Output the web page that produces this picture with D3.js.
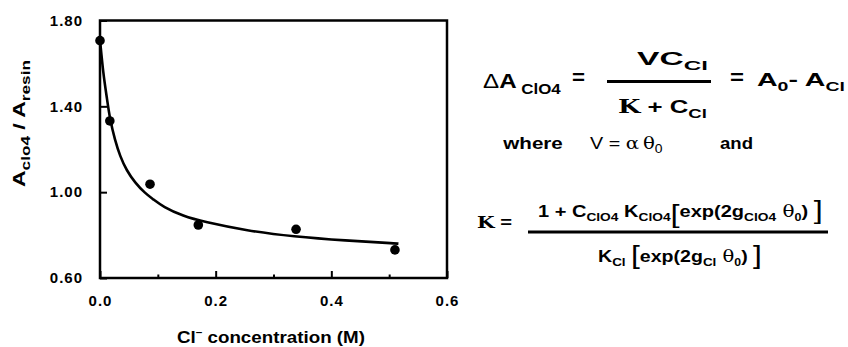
<!DOCTYPE html>
<html>
<head>
<meta charset="utf-8">
<title></title>
<style type="text/css">
body { margin: 0; background: #fff; }
text { font-family: 'Liberation Sans', Arial, Helvetica, sans-serif; fill: #000; }
</style>
</head>
<body>
<script src="https://d3js.org/d3.v7.min.js"></script>
<script type="text/javascript">

// measured points
const cl = [0, 0.017, 0.0865, 0.170, 0.339, 0.510];
const ratio = [1.706, 1.332, 1.037, 0.847, 0.827, 0.731];

// fitted curve
const fitCl = [0, 0.0057, 0.0116, 0.0173, 0.0259, 0.0346, 0.0462, 0.0605, 0.0778, 0.0916, 0.109, 0.144, 0.179, 0.254, 0.334, 0.426, 0.507, 0.516];
const fitRatio = [1.71, 1.55, 1.445, 1.337, 1.243, 1.168, 1.100, 1.045, 0.995, 0.968, 0.932, 0.888, 0.862, 0.820, 0.793, 0.774, 0.762, 0.760];

const xTicks = [0, 0.2, 0.4, 0.6];
const xMinor = [0.1, 0.3, 0.5];
const yTicks = [0.6, 1.0, 1.4, 1.8];

const W = 848, H = 347;
const pLeft = 100, pRight = 447, pTop = 20.5, pBottom = 278;

const svg = d3.select("body").append("svg")
    .attr("width", W)
    .attr("height", H);

svg.append("rect").attr("width", W).attr("height", H).attr("fill", "#fff");

const x = d3.scaleLinear().domain([0, 0.6]).range([pLeft, pRight]);
const y = d3.scaleLinear().domain([0.6, 1.8]).range([pBottom, pTop]);

// axes (ticks point inward)
svg.append("g")
    .attr("transform", "translate(0," + pBottom + ")")
    .call(d3.axisBottom(x).tickValues(xTicks).tickFormat(d3.format(".1f"))
      .tickSizeInner(-7).tickSizeOuter(0).tickPadding(17));

svg.append("g")
    .attr("transform", "translate(0," + pBottom + ")")
    .call(d3.axisBottom(x).tickValues(xMinor).tickFormat("")
      .tickSizeInner(-3.5).tickSizeOuter(0));

svg.append("g")
    .attr("transform", "translate(" + pLeft + ",0)")
    .call(d3.axisLeft(y).tickValues(yTicks).tickFormat(d3.format(".2f"))
      .tickSizeInner(-7).tickSizeOuter(0).tickPadding(17));

svg.selectAll(".domain").remove();
svg.selectAll(".tick line").attr("stroke", "#000").attr("stroke-width", 2);
svg.selectAll(".tick text")
    .attr("fill", "#000")
    .style("font-size", "15px")
    .style("font-weight", "bold")
    .style("letter-spacing", "1px")
    .style("font-family", "'Liberation Sans', Arial, sans-serif");

// frame
svg.append("rect")
    .attr("x", pLeft).attr("y", pTop)
    .attr("width", pRight - pLeft).attr("height", pBottom - pTop)
    .attr("fill", "none").attr("stroke", "#000").attr("stroke-width", 2.5);

// fitted curve
const fit = fitCl.map((c, i) => [c, fitRatio[i]]);
svg.append("path")
    .datum(fit)
    .attr("fill", "none")
    .attr("stroke", "#000")
    .attr("stroke-width", 2.6)
    .attr("d", d3.line().x(d => x(d[0])).y(d => y(d[1])).curve(d3.curveBasis));

// data points
svg.selectAll(".pt")
    .data(cl.map((c, i) => [c, ratio[i]]))
    .enter().append("circle")
    .attr("cx", d => x(d[0]))
    .attr("cy", d => y(d[1]))
    .attr("r", 4.8)
    .attr("fill", "#000");

// text with sub/superscripts, stretched sideways to fill [x0, x1]
// (the original figure is a horizontally stretched scan)
function rich(g, x0, x1, base, parts, opts) {
  opts = opts || {};
  const t = g.append("text")
      .attr("x", 0).attr("y", 0)
      .style("font-weight", opts.weight || "bold")
      .style("font-size", (opts.size || 16) + "px");
  parts.forEach(p => {
    const s = t.append("tspan").text(p.t);
    if (p.size) s.style("font-size", p.size + "px");
    if (p.w) s.style("font-weight", p.w);
    if (p.f) s.style("font-family", p.f);
    if (p.dy) s.attr("dy", p.dy);
  });
  const bb = t.node().getBBox();
  const k = Math.abs(x1 - x0) / bb.width;
  if (opts.vertical) {
    t.attr("transform", "translate(" + base + "," + x0 + ") rotate(-90) scale(" + k + ",1) translate(" + (-bb.x) + ",0)");
  } else {
    t.attr("transform", "translate(" + x0 + "," + base + ") scale(" + k + ",1) translate(" + (-bb.x) + ",0)");
  }
  return t;
}

// axis titles
rich(svg, 177, 365, 343, [
  {t: "Cl"}, {t: "\u2013", size: 10, dy: -7}, {t: " concentration (M)", dy: 7}
], {size: 16});

rich(svg, 187, 60, 25, [
  {t: "A"}, {t: "clo4", size: 12, dy: 5}, {t: " / A", dy: -5}, {t: "resin", size: 12, dy: 5}
], {size: 16, vertical: true});

// equations
const eq = svg.append("g");

rich(eq, 483, 561, 88, [
  {t: "\u0394", w: "normal"}, {t: "A"}, {t: " ClO4", size: 14, dy: 6}
], {size: 20});
rich(eq, 572, 585, 84, [{t: "="}], {size: 20});

rich(eq, 637, 708, 65, [{t: "VC"}, {t: "Cl", size: 13, dy: 5}], {size: 18});
eq.append("line").attr("x1", 607).attr("x2", 711).attr("y1", 81.5).attr("y2", 81.5)
  .attr("stroke", "#000").attr("stroke-width", 3);
rich(eq, 618, 707, 113, [
  {t: "K", f: "'DejaVu Serif', serif"}, {t: " + C"}, {t: "Cl", size: 13, dy: 5}
], {size: 18});

rich(eq, 730, 744, 84, [{t: "="}], {size: 20});
rich(eq, 757, 845, 86, [
  {t: "A"}, {t: "0", size: 13, dy: 5}, {t: "- A", dy: -5}, {t: "Cl", size: 13, dy: 5}
], {size: 19});

rich(eq, 502, 563, 149, [{t: "where"}], {size: 16});
rich(eq, 590, 663, 149, [
  {t: "V = "}, {t: "\u03b1\u2009\u03b8", f: "'DejaVu Serif', serif"}, {t: "0", size: 12, dy: 4}
], {size: 17, weight: "normal"});
rich(eq, 720, 753, 149, [{t: "and"}], {size: 16});

rich(eq, 477, 512, 228, [{t: "K", f: "'DejaVu Serif', serif"}, {t: " ="}], {size: 16});

rich(eq, 538, 823, 217, [
  {t: "1 + C"}, {t: "ClO4", size: 11, dy: 4}, {t: " K", dy: -4}, {t: "ClO4", size: 11, dy: 4},
  {t: "[", size: 26, w: "normal", dy: 2}, {t: "exp(2g", dy: -6}, {t: "ClO4", size: 11, dy: 4},
  {t: " \u03b8", dy: -4, f: "'DejaVu Serif', serif", w: "normal"}, {t: "0", size: 10, dy: 4}, {t: ") ", dy: -4},
  {t: "]", size: 26, w: "normal", dy: 2}
], {size: 16});
eq.append("line").attr("x1", 528).attr("x2", 828).attr("y1", 232).attr("y2", 232)
  .attr("stroke", "#000").attr("stroke-width", 3);
rich(eq, 598, 762, 262, [
  {t: "K"}, {t: "Cl", size: 11, dy: 4}, {t: "  ", dy: -4}, {t: "[", size: 26, w: "normal", dy: 2},
  {t: "exp(2g", dy: -2}, {t: "Cl", size: 11, dy: 4}, {t: " \u03b8", dy: -4, f: "'DejaVu Serif', serif", w: "normal"},
  {t: "0", size: 10, dy: 4}, {t: ") ", dy: -4}, {t: "]", size: 26, w: "normal", dy: 2}
], {size: 16});

</script>
</body>
</html>
